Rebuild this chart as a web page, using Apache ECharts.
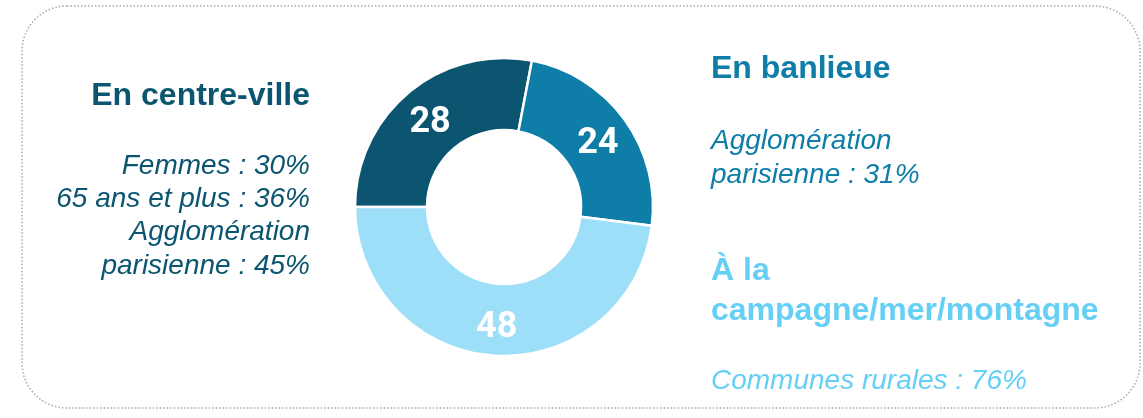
<!DOCTYPE html>
<html>
<head>
<meta charset="utf-8">
<script src="https://cdn.jsdelivr.net/npm/echarts@6/dist/echarts.min.js"></script>
<style>
  html, body { margin: 0; padding: 0; background: #fff; }
  #chart { width: 1143px; height: 418px; }
</style>
</head>
<body>
<div id="chart"></div>
<script>
// données
const categories = ['En centre-ville', 'En banlieue', 'À la campagne/mer/montagne']
const values = [28, 24, 48]
const colors = ['#0b5570', '#0e7ea8', '#9ddff8']

// textes autour du donut
const centreLines = ['Femmes : 30%', '65 ans et plus : 36%', 'Agglomération', 'parisienne : 45%']
const banlieueLines = ['Agglomération', 'parisienne : 31%']
const campagneTitle = ['À la', 'campagne/mer/montagne']
const campagneLines = ['Communes rurales : 76%']

const FONT = '"Liberation Sans", Arial, sans-serif'
const textLight = '#66cff5'

const chart = echarts.init(document.getElementById('chart'), null, { renderer: 'canvas' })

// petit helper pour une ligne de texte
const line = (text, x, y, color, opts = {}) => ({
  type: 'text',
  x: x,
  y: y,
  silent: true,
  style: {
    text: text,
    fill: color,
    font: (opts.bold ? 'bold ' : 'italic ') + (opts.size || 28) + 'px ' + FONT,
    align: opts.align || 'left',
    verticalAlign: 'alphabetic'
  }
})

const graphics = [
  {
    type: 'rect',
    silent: true,
    shape: { x: 22, y: 6, width: 1118, height: 402, r: 45 },
    style: { fill: 'none', stroke: '#a8a8a8', lineWidth: 1.5, lineDash: [1.5, 2] }
  },
  line(categories[0], 310, 80, colors[0], { bold: true, size: 32, align: 'right' }),
  ...centreLines.map((t, i) => line(t, 310, 152 + i * 33.3, colors[0], { align: 'right' })),
  line(categories[1], 711, 53, colors[1], { bold: true, size: 32 }),
  ...banlieueLines.map((t, i) => line(t, 711, 127 + i * 34, colors[1])),
  ...campagneTitle.map((t, i) => line(t, 711, 255 + i * 40, textLight, { bold: true, size: 32 })),
  ...campagneLines.map((t, i) => line(t, 711, 367 + i * 34, textLight))
]

chart.setOption({
  animation: false,
  graphic: graphics,
  series: [
    {
      type: 'pie',
      center: [504, 207],
      radius: [77, 149],
      startAngle: 180,
      clockwise: true,
      avoidLabelOverlap: false,
      itemStyle: { borderColor: '#fff', borderWidth: 2.5 },
      label: {
        show: true,
        position: 'inside',
        formatter: '{c}',
        color: '#fff',
        fontFamily: 'Roboto, sans-serif',
        fontWeight: 'bold',
        fontSize: 36
      },
      labelLayout: { dy: 5 },
      labelLine: { show: false },
      emphasis: { disabled: true },
      data: categories.map((name, i) => ({
        name: name,
        value: values[i],
        itemStyle: { color: colors[i] }
      }))
    }
  ]
})
</script>
</body>
</html>
